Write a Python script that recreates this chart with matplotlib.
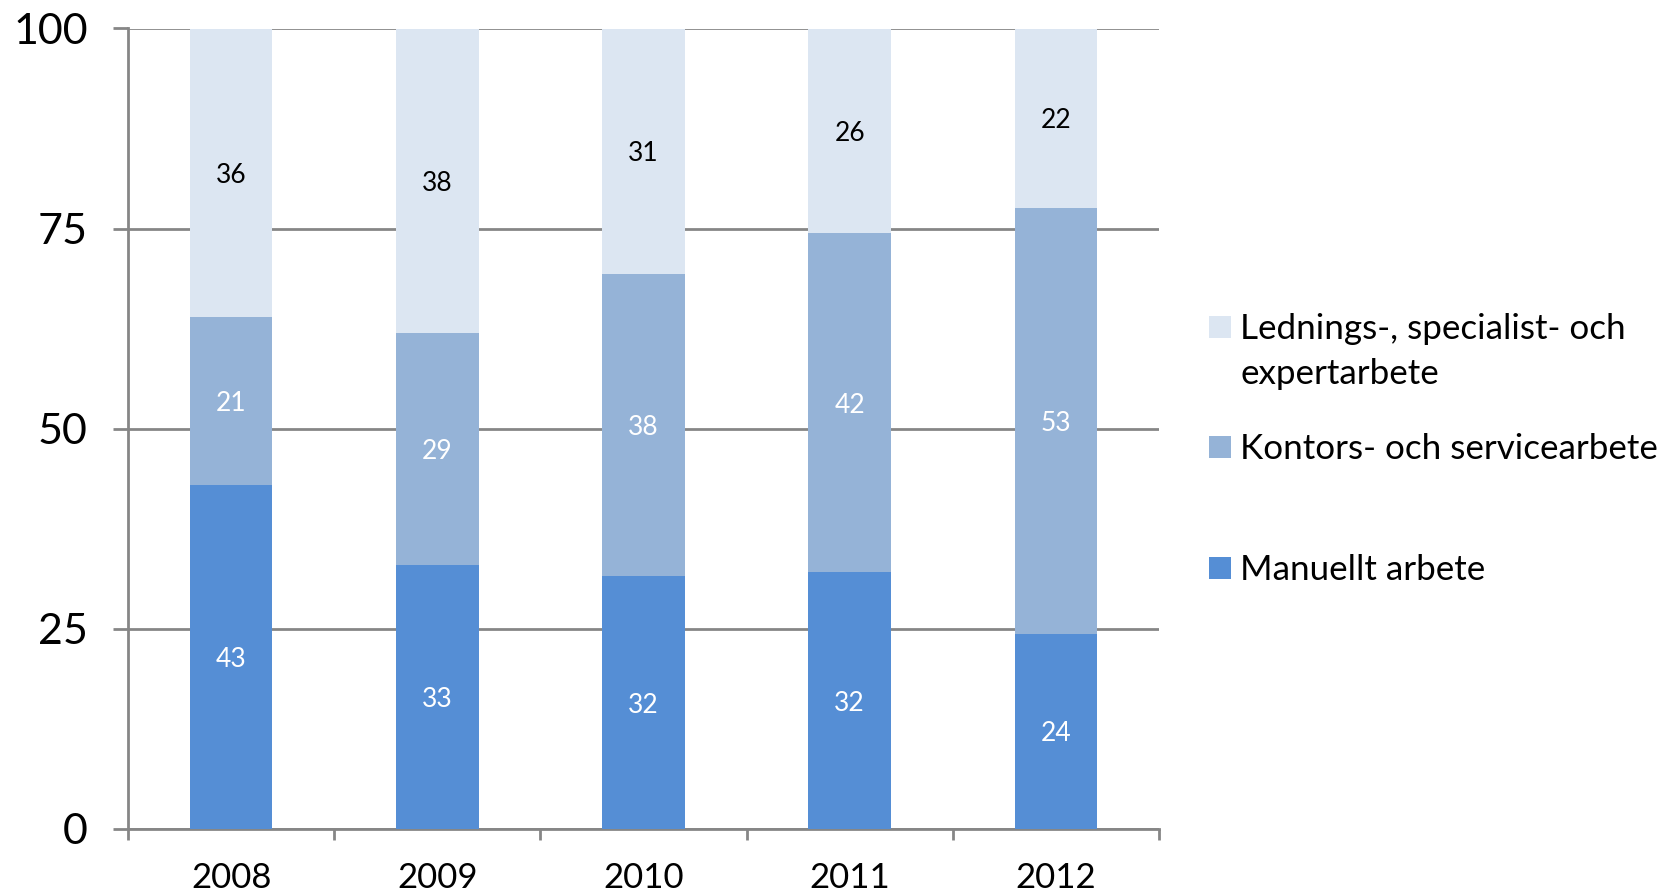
import matplotlib
matplotlib.use("Agg")
import matplotlib.pyplot as plt
from matplotlib.patches import Rectangle
import numpy as np

years = ["2008", "2009", "2010", "2011", "2012"]
manuellt = [43.0, 33.0, 31.6, 32.1, 24.4]
kontors = [21.0, 29.0, 37.7, 42.3, 53.2]
ledning = [36.0, 38.0, 30.7, 25.6, 22.4]
series_names = ["Lednings-, specialist- och\nexpertarbete",
                "Kontors- och servicearbete",
                "Manuellt arbete"]
yticks = [0, 25, 50, 75, 100]

c_man = "#558ED5"
c_kon = "#95B3D7"
c_led = "#DCE6F2"
grid_c = "#868686"

plt.rcParams['font.family'] = ['Lato', 'DejaVu Sans']

fig = plt.figure(figsize=(16.71, 8.94), dpi=100)
ax = fig.add_axes([128/1671, 1-829/894, (1159-128)/1671, (829-28.5)/894])

x = np.arange(len(years))
w = 0.4
ax.bar(x, manuellt, w, color=c_man, zorder=3)
ax.bar(x, kontors, w, bottom=manuellt, color=c_kon, zorder=3)
bot3 = np.array(manuellt) + np.array(kontors)
ax.bar(x, ledning, w, bottom=bot3, color=c_led, zorder=3)

for i in range(len(years)):
    ax.text(x[i], manuellt[i]/2, f"{round(manuellt[i])}", ha="center", va="center_baseline",
            color="white", fontsize=19, zorder=4)
    ax.text(x[i], manuellt[i] + kontors[i]/2, f"{round(kontors[i])}", ha="center", va="center_baseline",
            color="white", fontsize=19, zorder=4)
    ax.text(x[i], bot3[i] + ledning[i]/2, f"{round(ledning[i])}", ha="center", va="center_baseline",
            color="black", fontsize=19, zorder=4)

ax.set_xlim(-0.5, len(years)-0.5)
ax.set_ylim(0, 100)
ax.set_yticks(yticks)
ax.set_yticklabels([str(v) for v in yticks], fontsize=31)
ax.set_xticks(x)
ax.set_xticklabels(years, fontsize=25)
ax.set_xticks(np.arange(-0.5, len(years), 1.0), minor=True)
ax.tick_params(axis="x", which="major", length=0, pad=24)
ax.tick_params(axis="x", which="minor", length=8, width=2, color=grid_c, direction="out")
ax.tick_params(axis="y", length=11, width=2, color=grid_c, pad=18)

ax.grid(axis="y", color=grid_c, linewidth=2, zorder=1)
ax.set_axisbelow(True)
for s in ["top", "right"]:
    ax.spines[s].set_visible(False)
for s in ["left", "bottom"]:
    ax.spines[s].set_color(grid_c)
    ax.spines[s].set_linewidth(2)

# legend
W, H = 1671, 894
leg = [(c_led, series_names[0], 327), (c_kon, series_names[1], 447), (c_man, series_names[2], 568)]
for col, name, yc in leg:
    fig.patches.append(Rectangle((1209/W, 1-(yc+11)/H), 22/W, 22/H, transform=fig.transFigure,
                                 facecolor=col, edgecolor="none"))
    fig.text(1240/W, 1-(yc-14)/H, name, ha="left", va="top", fontsize=25.2, linespacing=1.5)

fig.savefig("out.png", dpi=100)
